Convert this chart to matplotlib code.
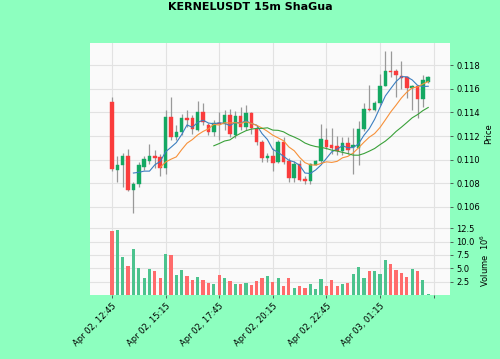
import matplotlib
matplotlib.use("Agg")
import matplotlib.pyplot as plt
import numpy as np
import pandas as pd

times = pd.date_range("2024-04-02 12:45", periods=60, freq="15min")
opens = [0.1149, 0.1091, 0.1095, 0.1103, 0.1074, 0.1079, 0.1094, 0.1099, 0.1103, 0.1102,
         0.1093, 0.1136, 0.1119, 0.1123, 0.1135, 0.1135, 0.1125, 0.1140, 0.1129, 0.1123,
         0.1131, 0.1130, 0.1138, 0.1121, 0.1137, 0.1128, 0.1139, 0.1126, 0.1115, 0.1101,
         0.1103, 0.1098, 0.1115, 0.1099, 0.1084, 0.1096, 0.1083, 0.1082, 0.1095, 0.1099,
         0.1116, 0.1112, 0.1111, 0.1107, 0.1114, 0.1111, 0.1110, 0.1126, 0.1143, 0.1142,
         0.1148, 0.1162, 0.1175, 0.1175, 0.1171, 0.1170, 0.1161, 0.1162, 0.1151, 0.1166]
highs = [0.1153, 0.1103, 0.1106, 0.1109, 0.1081, 0.1098, 0.1103, 0.1113, 0.1108, 0.1105,
         0.1142, 0.1153, 0.1129, 0.1139, 0.1142, 0.1138, 0.1150, 0.1148, 0.1131, 0.1134,
         0.1140, 0.1142, 0.1143, 0.1141, 0.1145, 0.1146, 0.1140, 0.1129, 0.1117, 0.1106,
         0.1110, 0.1117, 0.1119, 0.1101, 0.1099, 0.1100, 0.1086, 0.1097, 0.1100, 0.1130,
         0.1127, 0.1127, 0.1120, 0.1119, 0.1119, 0.1127, 0.1133, 0.1148, 0.1163, 0.1150,
         0.1173, 0.1192, 0.1192, 0.1177, 0.1184, 0.1171, 0.1163, 0.1163, 0.1172, 0.1171]
lows = [0.1090, 0.1081, 0.1077, 0.1073, 0.1055, 0.1077, 0.1091, 0.1096, 0.1093, 0.1086,
        0.1088, 0.1117, 0.1117, 0.1121, 0.1128, 0.1122, 0.1124, 0.1129, 0.1121, 0.1120,
        0.1117, 0.1125, 0.1119, 0.1118, 0.1125, 0.1125, 0.1122, 0.1112, 0.1098, 0.1098,
        0.1090, 0.1097, 0.1096, 0.1081, 0.1081, 0.1082, 0.1079, 0.1079, 0.1095, 0.1097,
        0.1109, 0.1105, 0.1104, 0.1104, 0.1105, 0.1088, 0.1095, 0.1124, 0.1141, 0.1141,
        0.1146, 0.1162, 0.1170, 0.1153, 0.1160, 0.1152, 0.1142, 0.1135, 0.1145, 0.1165]
closes = [0.1092, 0.1095, 0.1103, 0.1074, 0.1079, 0.1095, 0.1100, 0.1103, 0.1101, 0.1093,
          0.1136, 0.1119, 0.1123, 0.1135, 0.1134, 0.1126, 0.1140, 0.1132, 0.1123, 0.1131,
          0.1130, 0.1138, 0.1122, 0.1137, 0.1128, 0.1139, 0.1127, 0.1115, 0.1101, 0.1103,
          0.1097, 0.1115, 0.1098, 0.1084, 0.1096, 0.1083, 0.1082, 0.1096, 0.1099, 0.1117,
          0.1111, 0.1110, 0.1107, 0.1114, 0.1108, 0.1112, 0.1126, 0.1143, 0.1142, 0.1148,
          0.1162, 0.1175, 0.1174, 0.1172, 0.1169, 0.1161, 0.1162, 0.1151, 0.1167, 0.1170]
volumes = [12.0, 12.2, 7.2, 5.5, 8.6, 5.0, 3.2, 4.9, 4.4, 3.2,
           7.7, 7.5, 3.7, 4.7, 3.6, 2.8, 3.3, 2.8, 2.2, 2.1,
           3.8, 3.2, 2.7, 2.0, 2.0, 2.2, 1.9, 2.6, 3.1, 3.5,
           2.5, 3.2, 1.6, 3.2, 1.3, 1.6, 1.4, 2.1, 1.1, 3.0,
           1.7, 2.8, 1.7, 2.1, 2.2, 4.0, 5.3, 3.2, 4.4, 4.4,
           3.9, 6.5, 5.8, 4.7, 4.2, 3.3, 4.9, 4.5, 2.8, 0.1]
mav_periods = [5, 10, 20]
mav_colors = ["#3c7fc0", "#f7913a", "#3aa13a"]
title = "KERNELUSDT 15m ShaGua"

up_col = "#14a862"
dn_col = "#fa3c3c"
vup_col = "#4cc38e"
vdn_col = "#ff6b6b"
bg = "#8dffbf"

fig = plt.figure(figsize=(5.0, 3.59), dpi=100, facecolor=bg)
W, H = 500, 359
def rect(x0, y0, x1, y1):
    return [x0 / W, 1 - y1 / H, (x1 - x0) / W, (y1 - y0) / H]

ax = fig.add_axes(rect(90, 43, 450, 225))
axv = fig.add_axes(rect(90, 225, 450, 295), sharex=ax)

n = len(closes)
x = np.arange(n)
o = np.array(opens); c = np.array(closes); h = np.array(highs); l = np.array(lows)
up = c >= o
cols = np.where(up, up_col, dn_col)

ax.vlines(x, l, h, color="#999999", linewidth=0.9, zorder=2)
ax.bar(x, np.abs(c - o) + 0.00002, bottom=np.minimum(o, c), width=0.65,
       color=cols, edgecolor=cols, linewidth=0.3, zorder=3)

cs = pd.Series(closes)
for p, mc in zip(mav_periods, mav_colors):
    ax.plot(x, cs.rolling(p).mean(), color=mc, linewidth=0.8, zorder=4)

vcols = np.where(up, vup_col, vdn_col)
axv.bar(x, volumes, width=0.6, color=vcols, zorder=3)

for a in (ax, axv):
    a.set_facecolor("#fafafa")
    for s in a.spines.values():
        s.set_visible(False)
    a.grid(True, color="#e2e2e2", linewidth=0.8, zorder=0)
    a.set_axisbelow(True)
    a.yaxis.tick_right()
    a.yaxis.set_label_position("right")
    a.tick_params(labelsize=6, length=2.5, color="#444444", width=0.6, pad=2)

ax.set_xlim(-4.1, 63.06)
ax.set_ylim(0.10445, 0.11989)
ax.set_yticks([0.106, 0.108, 0.110, 0.112, 0.114, 0.116, 0.118])
ax.set_yticklabels([f"{v:.3f}" for v in [0.106, 0.108, 0.110, 0.112, 0.114, 0.116, 0.118]])
ax.set_ylabel("Price", fontsize=6, labelpad=3)
plt.setp(ax.get_xticklabels(), visible=False)
ax.tick_params(axis="x", length=0)

axv.set_ylim(0, 13.1)
axv.set_yticks([2.5, 5.0, 7.5, 10.0, 12.5])
axv.set_yticklabels(["2.5", "5.0", "7.5", "10.0", "12.5"])
axv.set_ylabel(r"Volume  $10^6$", fontsize=6, labelpad=3)

tick_idx = list(range(0, 61, 10))
tick_lab = [times[i].strftime("%b %d, %H:%M") if i < n else "" for i in tick_idx]
axv.set_xticks(tick_idx)
axv.set_xticklabels(tick_lab, rotation=45, ha="right", rotation_mode="anchor", fontsize=6)

fig.suptitle(title, fontsize=8, fontweight="bold", x=0.5, y=0.995)

fig.savefig("out.png", dpi=100, facecolor=bg)
